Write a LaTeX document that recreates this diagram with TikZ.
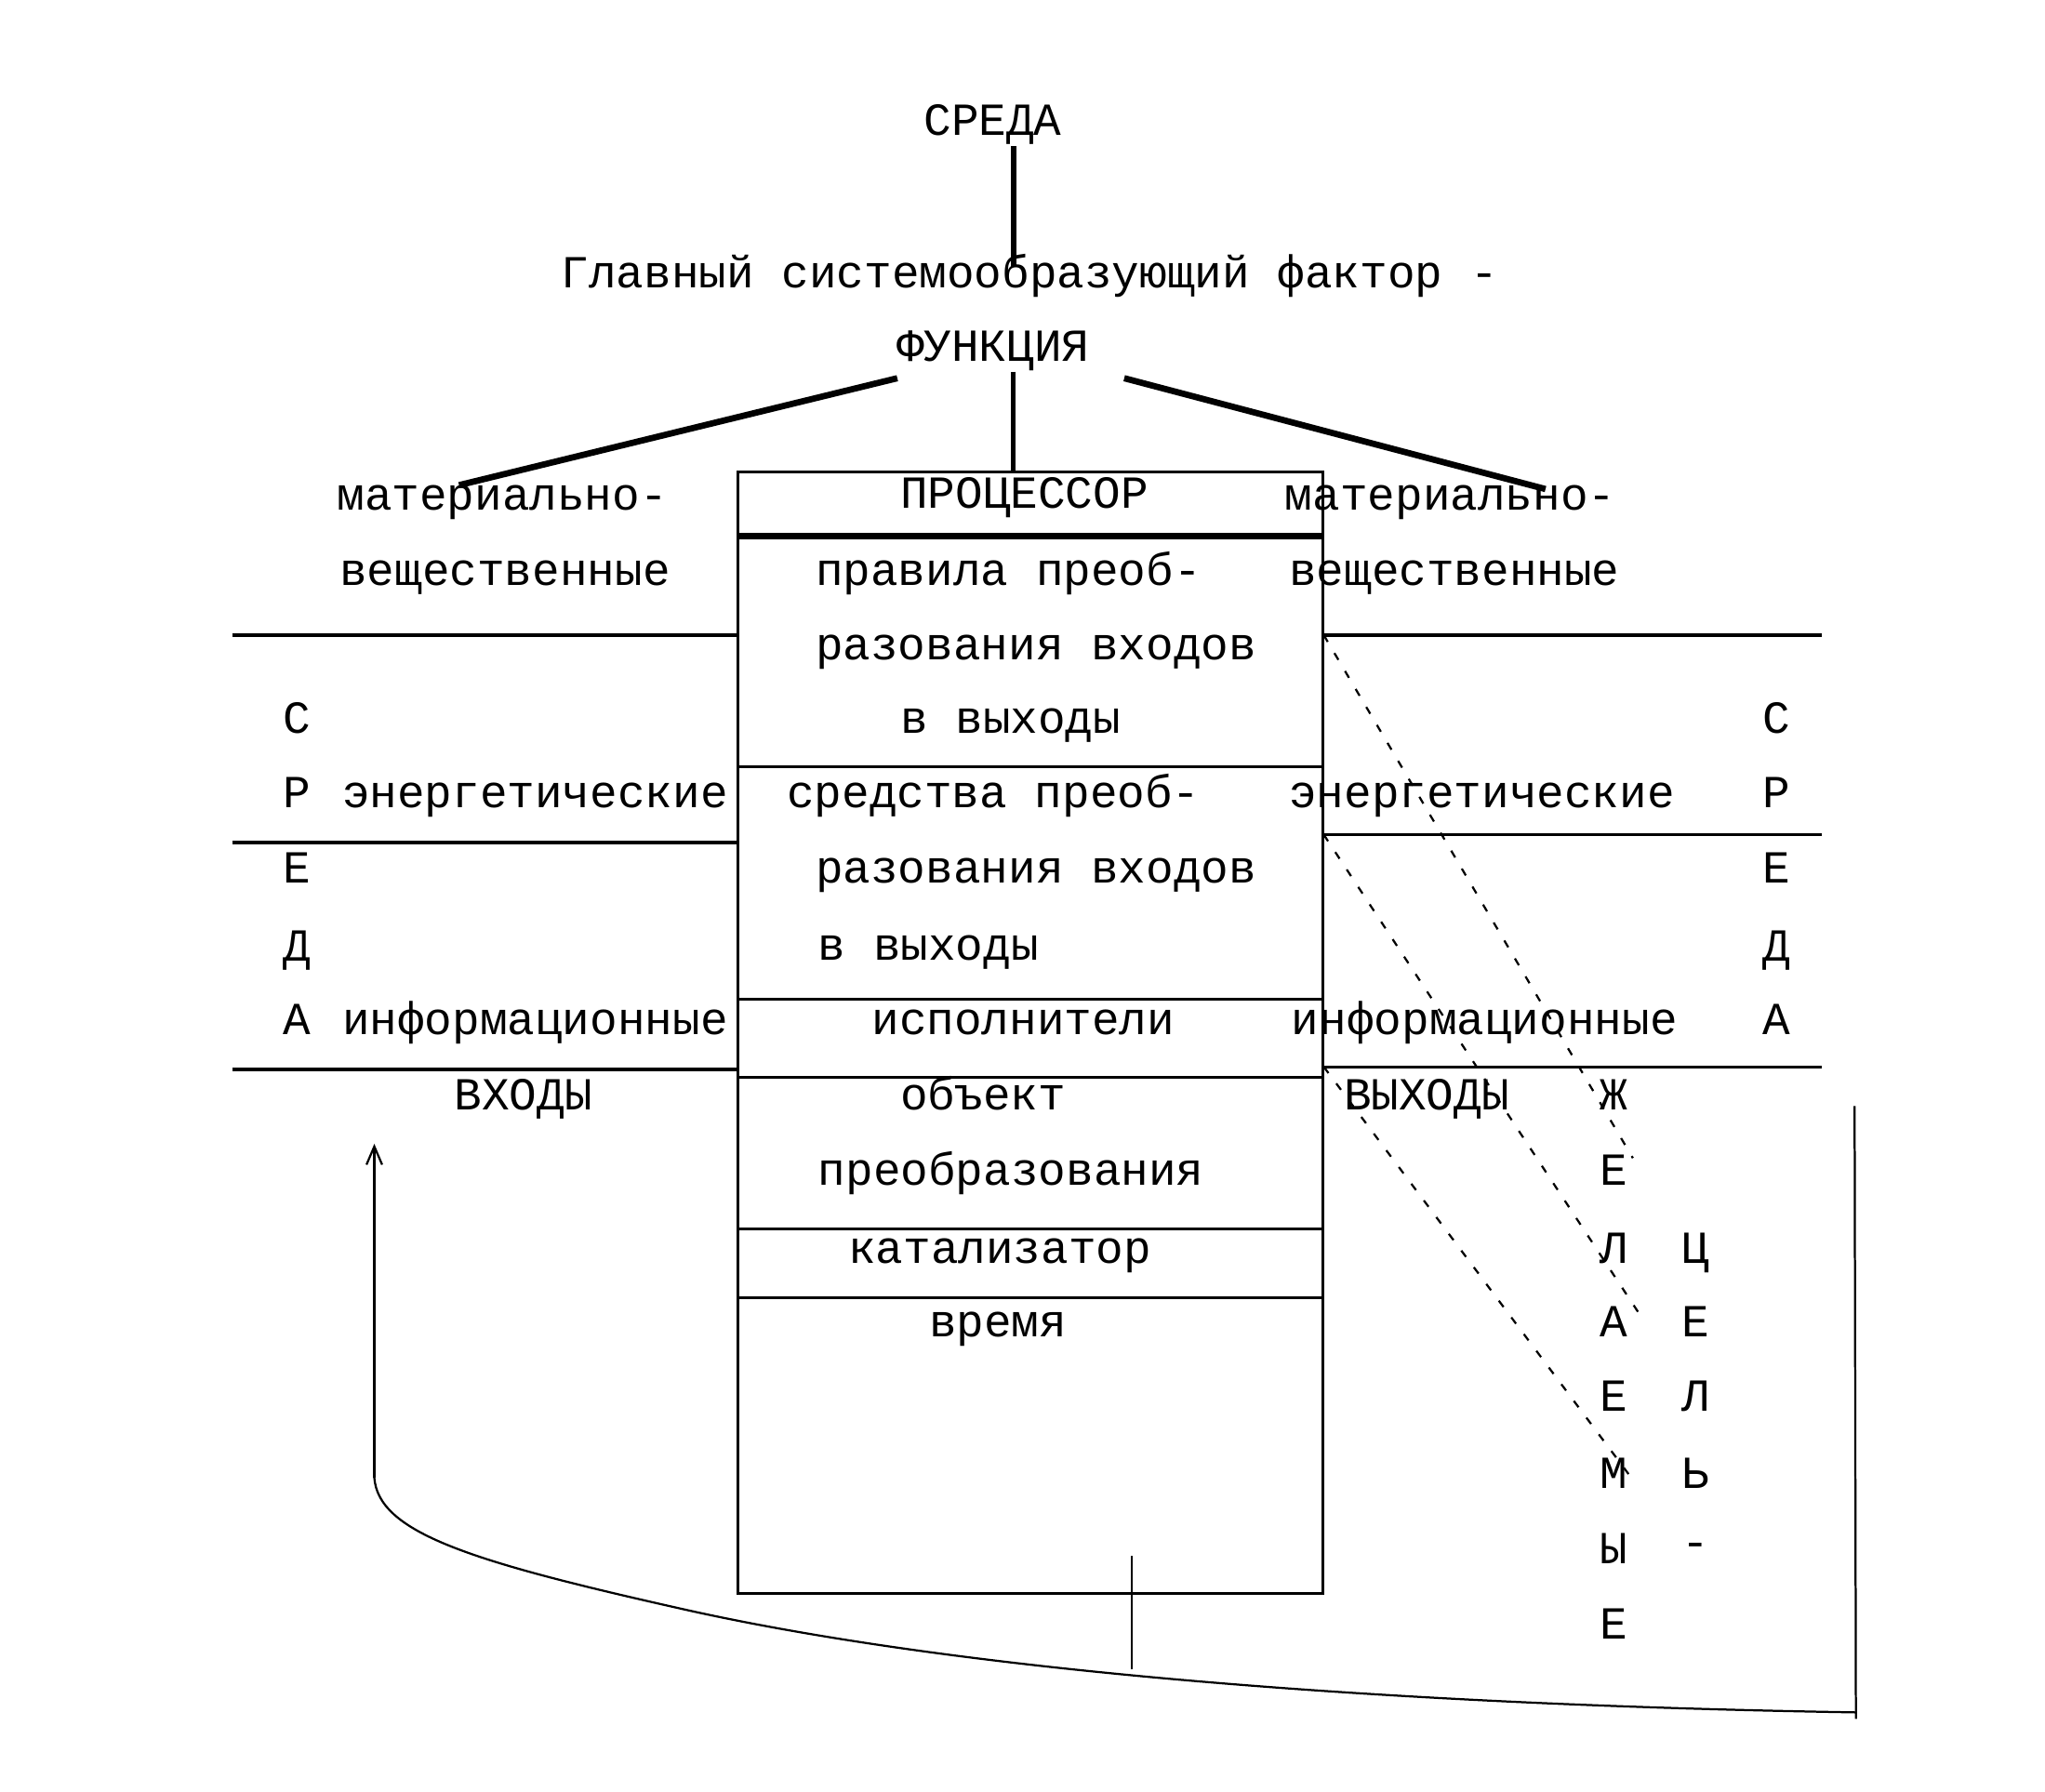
\documentclass[tikz,border=0pt]{standalone}
\usepackage{fontspec}
\setmonofont{Liberation Mono}
\usetikzlibrary{arrows.meta}
\begin{document}
\begin{tikzpicture}[x=0.5pt,y=-0.5pt,
  txt/.style={font=\ttfamily\fontsize{17.6}{20}\selectfont, inner sep=0pt, anchor=base west},
  ctxt/.style={font=\ttfamily\fontsize{17.6}{20}\selectfont, inner sep=0pt, anchor=base},
  thinline/.style={line width=1.1pt},
  thickline/.style={line width=2.4pt},
  dashline/.style={line width=0.8pt, dash pattern=on 3pt off 5pt},
  arrline/.style={line width=0.8pt}]
\useasboundingbox (0,0) rectangle (1568,1374);
\fill[white] (0,0) rectangle (1568,1374);

% top texts
\node[txt] (sreda) at (708,104) {СРЕДА};
\node[txt] (glav) at (430,221) {Главный системообразующий фактор -};
\node[txt] (func) at (687,277) {ФУНКЦИЯ};

% connector coordinates
\coordinate (s1) at (777,112);
\coordinate (s2) at (777,205);
\coordinate (f0) at (777,285);
\coordinate (f1) at (777,362);
\coordinate (fl) at (688,290);
\coordinate (fl2) at (352,372);
\coordinate (fr) at (862,290);
\coordinate (fr2) at (1185,375);
\draw[line width=2pt] (s1) -- (s2);
\draw[line width=1.8pt] (f0) -- (f1);
\draw[thickline] (fl) -- (fl2);
\draw[thickline] (fr) -- (fr2);

% central box
\coordinate (btl) at (566,362);
\coordinate (bbr) at (1014,1222);
\draw[thinline] (btl) rectangle (bbr);
\draw[thickline] (566,411) -- (1014,411);
\foreach \yy in {588,766,826,942,995} \draw[thinline] (566,\yy) -- (1014,\yy);

\node[txt] (proc) at (690,390) {ПРОЦЕССОР};
\node[txt] (b1) at (625,449) {правила преоб-};
\node[txt] (b2) at (625,506) {разования входов};
\node[txt] (b3) at (690,562) {в выходы};
\node[txt] (b4) at (603,619) {средства преоб-};
\node[txt] (b5) at (625,677) {разования входов};
\node[txt] (b6) at (627,736) {в выходы};
\node[txt] (b7) at (668,793) {исполнители};
\node[txt] (b8) at (690,851) {объект};
\node[txt] (b9) at (627,909) {преобразования};
\node[txt] (b10) at (650,969) {катализатор};
\node[txt] (b11) at (712,1025) {время};

% left side
\node[txt] (lm1) at (258,391) {материально-};
\node[txt] (lm2) at (260,449) {вещественные};
\node[txt] (le) at (262,619) {энергетические};
\node[txt] (li) at (262,793) {информационные};
\node[txt] (lin) at (348,851) {ВХОДЫ};
\draw[thinline] (178,487) -- (566,487);
\draw[thinline] (178,646) -- (566,646);
\draw[thinline] (178,820) -- (566,820);
\node[ctxt] (lc1) at (228,562) {С};
\node[ctxt] (lc2) at (228,619) {Р};
\node[ctxt] (lc3) at (228,677) {Е};
\node[ctxt] (lc4) at (228,737) {Д};
\node[ctxt] (lc5) at (228,793) {А};

% right side
\node[txt] (rm1) at (985,391) {материально-};
\node[txt] (rm2) at (988,449) {вещественные};
\node[txt] (re) at (988,619) {энергетические};
\node[txt] (ri) at (990,793) {информационные};
\node[txt] (rout) at (1030,851) {ВЫХОДЫ};
\draw[thinline] (1014,487) -- (1397,487);
\draw[thinline] (1014,640) -- (1397,640);
\draw[thinline] (1014,818) -- (1397,818);
\node[ctxt] (rc1) at (1362,562) {С};
\node[ctxt] (rc2) at (1362,619) {Р};
\node[ctxt] (rc3) at (1362,677) {Е};
\node[ctxt] (rc4) at (1362,737) {Д};
\node[ctxt] (rc5) at (1362,793) {А};

% ЖЕЛАЕМЫЕ / ЦЕЛЬ-
\node[ctxt] (w1) at (1237,851) {Ж};
\node[ctxt] (w2) at (1237,909) {Е};
\node[ctxt] (w3) at (1237,969) {Л};
\node[ctxt] (w4) at (1237,1025) {А};
\node[ctxt] (w5) at (1237,1082) {Е};
\node[ctxt] (w6) at (1237,1141) {М};
\node[ctxt] (w7) at (1237,1199) {Ы};
\node[ctxt] (w8) at (1237,1257) {Е};
\node[ctxt] (g1) at (1300,969) {Ц};
\node[ctxt] (g2) at (1300,1025) {Е};
\node[ctxt] (g3) at (1300,1082) {Л};
\node[ctxt] (g4) at (1300,1141) {Ь};
\node[ctxt] (g5) at (1300,1194) {-};

% dashed lines
\coordinate (da0) at (1015,487);
\coordinate (da1) at (1252,888);
\coordinate (db0) at (1015,640);
\coordinate (db1) at (1256,1006);
\coordinate (dc0) at (1015,818);
\coordinate (dc1) at (1250,1132);
\draw[dashline] (da0) -- (da1);
\draw[dashline] (db0) -- (db1);
\draw[dashline] (dc0) -- (dc1);

% feedback loop
\coordinate (ca) at (287,1133);
\coordinate (cm) at (520,1233);
\coordinate (atip) at (287,877);
\coordinate (rtop) at (1422,848);
\coordinate (rbot) at (1423,1318);
\coordinate (cr) at (1423,1313);
\draw[arrline,-{Straight Barb[length=7pt,width=6pt]}] (ca) -- (atip);
\draw[arrline] (ca) .. controls (290,1175) and (360,1197) .. (cm)
   .. controls (700,1274) and (1000,1306) .. (cr);
\draw[arrline] (rtop) -- (rbot);
\coordinate (t0) at (868,1193);
\coordinate (t1) at (868,1280);
\draw[arrline] (t0) -- (t1);
\end{tikzpicture}
\end{document}
